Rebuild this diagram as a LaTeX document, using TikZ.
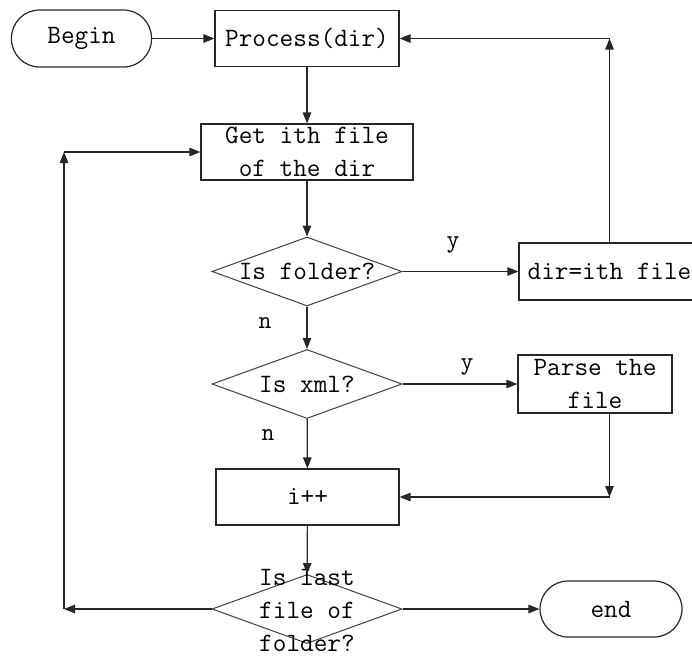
\documentclass[tikz,border=0pt]{standalone}
\usetikzlibrary{shapes.geometric,arrows.meta}
\begin{document}
\begin{tikzpicture}[x=1pt,y=-1pt,
  every node/.style={inner sep=0pt, font=\ttfamily\fontsize{26.5}{33}\selectfont},
  line/.style={draw=black!85, line width=1.2pt},
  arr/.style={line, -{Triangle[length=11pt,width=8.5pt]}},
  procbox/.style={line, rectangle, align=center},
  term/.style={line, rectangle, rounded corners=28pt},
  decision/.style={draw=black!75, line width=1pt, diamond, minimum width=190pt, minimum height=69pt},
  lbl/.style={font=\ttfamily\fontsize{25}{30}\selectfont}]
\useasboundingbox (0,0) rectangle (692,656);

% process steps
\node[term, minimum width=140pt, minimum height=57pt] (begin) at (81.5,38.5) {Begin};
\node[procbox, minimum width=184pt, minimum height=56pt] (proc) at (307,38.5) {Process(dir)};
\node[procbox, minimum width=212pt, minimum height=56pt] (get) at (307,152) {Get ith file\\of the dir};
\node[decision] (folder) at (307,271.5) {};
\node (folderT) at (folder) {Is folder?};
\node[procbox, minimum width=181pt, minimum height=57pt] (dir) at (609.5,271.5) {dir=ith file};
\node[decision] (xml) at (307,384) {};
\node (xmlT) at (xml) {Is xml?};
\node[procbox, minimum width=154pt, minimum height=58pt] (parse) at (595,384) {Parse the\\file};
\node[procbox, minimum width=183pt, minimum height=56pt] (inc) at (307.5,497) {i++};
\node[decision] (last) at (307,609) {};
\node[align=center] (lastT) at (307,610) {Is last\\file of\\folder?};
\node[term, minimum width=142pt, minimum height=56pt] (end) at (611,609) {end};

% branch labels
\node[lbl] (y1) at (453,245) {y};
\node[lbl] (n1) at (265,323) {n};
\node[lbl] (y2) at (467,367) {y};
\node[lbl] (n2) at (268,435) {n};

% main flow
\draw[arr] (begin) -- (proc);
\draw[arr] (proc) -- (get);
\draw[arr] (get) -- (folder);
\draw[arr] (folder) -- (dir);
\draw[arr] (folder) -- (xml);
\draw[arr] (xml) -- (parse);
\draw[arr] (xml) -- (inc);
\draw[arr] (inc) -- (last);
\draw[arr] (last) -- (end);

% loop back to Process(dir)
\coordinate (c1) at (dir.north |- proc.east);
\draw[arr] (dir.north) -- (c1);
\draw[arr] (c1) -- (proc.east);

% Parse the file back into i++
\coordinate (c2) at (c1 |- inc.east);
\draw[arr] (parse.south -| c1) -- (c2);
\draw[arr] (c2) -- (inc.east);

% next file loop
\coordinate (c3) at (64,609);
\coordinate (c4) at (c3 |- get.west);
\draw[arr] (last.west) -- (c3);
\draw[arr] (c3) -- (c4);
\draw[arr] (c4) -- (get.west);
\end{tikzpicture}
\end{document}
